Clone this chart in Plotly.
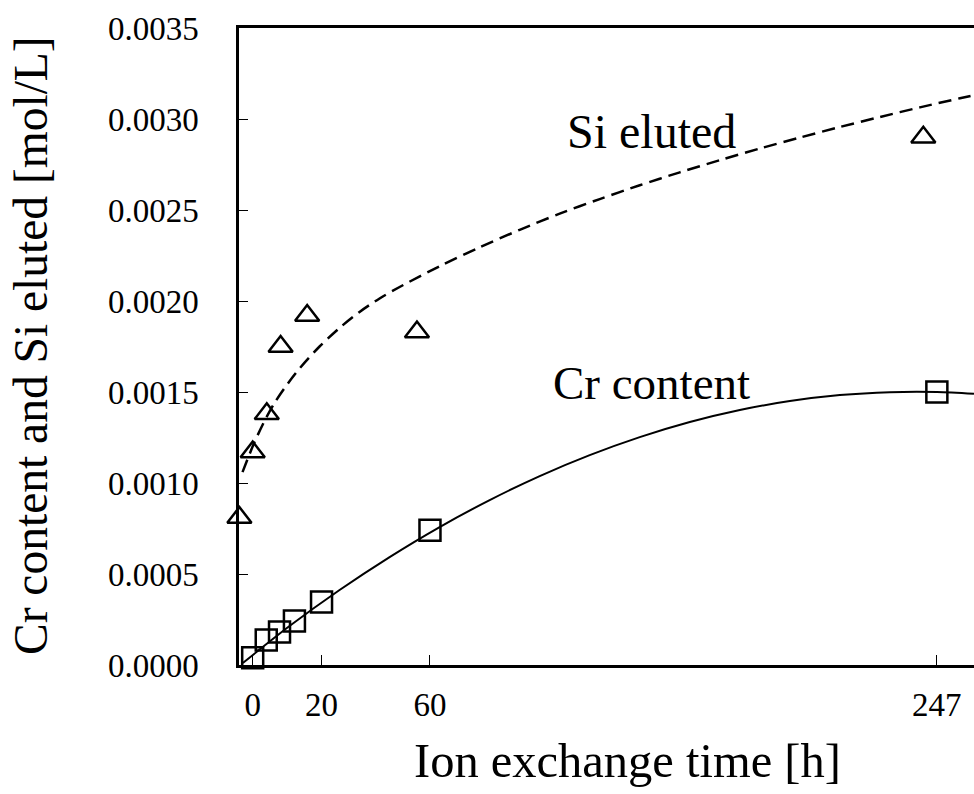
import plotly.graph_objects as go

# Measured points: time on the plotted axis [h], concentration [mol/L]
cr_time = [-5.4, -0.4, 4.5, 10.0, 20.0, 60.0, 247.0]
cr_content = [0.00004, 0.000137, 0.000181, 0.000242, 0.000346, 0.00074, 0.0015]

si_time = [-10.3, -5.4, -0.2, 4.9, 14.7, 55.2, 242.0]
si_eluted = [0.00081, 0.00117, 0.00138, 0.00175, 0.00192, 0.00183, 0.0029]

# Trend curves drawn through the data
cr_fit_time = [-9.04, 8.19, 26.65, 45.11, 63.57, 82.03, 100.48, 118.94, 137.39,
               155.85, 174.31, 192.77, 211.22, 229.68, 247.03, 260.69]
cr_fit = [0.000011, 0.000214, 0.000412, 0.000593, 0.000758, 0.000906, 0.001038,
          0.001153, 0.001252, 0.001335, 0.001401, 0.00145, 0.001483, 0.001499,
          0.0015, 0.00149]

si_fit_time = [-9.15, -4.72, -1.03, 2.66, 6.35, 11.89, 19.27, 26.65, 34.03, 41.42,
               48.8, 63.57, 78.33, 93.1, 107.86, 122.63, 137.39, 152.16, 166.92,
               181.69, 196.46, 211.22, 225.99, 240.75, 255.52, 260.69]
si_fit = [0.00106, 0.001225, 0.001341, 0.00144, 0.001522, 0.001629, 0.00175,
          0.001852, 0.00194, 0.002014, 0.002077, 0.002191, 0.002295, 0.002391,
          0.00248, 0.00256, 0.002636, 0.002707, 0.002774, 0.002838, 0.002898,
          0.002956, 0.003011, 0.003064, 0.003114, 0.003131]

# Axis ticks
x_tick_pos = [-5.4, 20, 60, 247]
x_tick_text = ["0", "20", "60", "247"]

FONT = "Liberation Serif, Times New Roman, serif"

fig = go.Figure()

fig.add_trace(go.Scatter(
    x=si_fit_time, y=si_fit, mode="lines",
    line=dict(color="black", width=2.5, dash="13px,7px", shape="spline", smoothing=0.8),
    hoverinfo="skip"))
fig.add_trace(go.Scatter(
    x=cr_fit_time, y=cr_fit, mode="lines",
    line=dict(color="black", width=2, shape="spline", smoothing=0.8),
    hoverinfo="skip"))

fig.add_trace(go.Scatter(
    x=si_time, y=si_eluted, mode="markers", name="Si eluted",
    marker=dict(symbol="triangle-up-open", size=21, color="black",
                line=dict(color="black", width=2.5)),
    cliponaxis=False))
fig.add_trace(go.Scatter(
    x=cr_time, y=cr_content, mode="markers", name="Cr content",
    marker=dict(symbol="square-open", size=21, color="black",
                line=dict(color="black", width=2.5)),
    cliponaxis=False))

fig.update_xaxes(
    range=[-10.45, 260.7], showline=True, linecolor="black", linewidth=2.5,
    mirror=True, showgrid=False, zeroline=False,
    ticks="inside", ticklen=10, tickwidth=1, tickcolor="black",
    tickvals=x_tick_pos, ticktext=x_tick_text,
    tickfont=dict(family=FONT, size=33, color="black"),
    ticklabelstandoff=9)
fig.update_yaxes(
    range=[0, 0.0035], dtick=0.0005, tick0=0, tickformat=".4f",
    showline=True, linecolor="black", linewidth=2.5,
    showgrid=False, zeroline=False,
    ticks="inside", ticklen=9, tickwidth=1, tickcolor="black",
    tickfont=dict(family=FONT, size=33, color="black"),
    ticklabelstandoff=31)

fig.update_layout(
    width=974, height=794,
    margin=dict(l=239, r=0, t=28, b=129),
    plot_bgcolor="white", paper_bgcolor="white",
    showlegend=False,
    font=dict(family=FONT, color="black"),
    annotations=[
        dict(text="Ion exchange time [h]", xref="paper", yref="paper",
             x=(627 - 239) / 735, y=-(760 - 665) / 637, showarrow=False,
             xanchor="center", yanchor="middle",
             font=dict(family=FONT, size=48.5, color="black")),
        dict(text="Cr content and Si eluted [mol/L]", xref="paper", yref="paper",
             x=-(239 - 31) / 735, y=(665 - 346) / 637, showarrow=False,
             textangle=-90, xanchor="center", yanchor="middle",
             font=dict(family=FONT, size=47.5, color="black")),
        dict(text="Si eluted", x=141.8, y=0.00293, xref="x", yref="y",
             showarrow=False, xanchor="center", yanchor="middle",
             font=dict(family=FONT, size=48, color="black")),
        dict(text="Cr content", x=141.6, y=0.001551, xref="x", yref="y",
             showarrow=False, xanchor="center", yanchor="middle",
             font=dict(family=FONT, size=47, color="black")),
    ],
)

fig.write_html("out.html")
